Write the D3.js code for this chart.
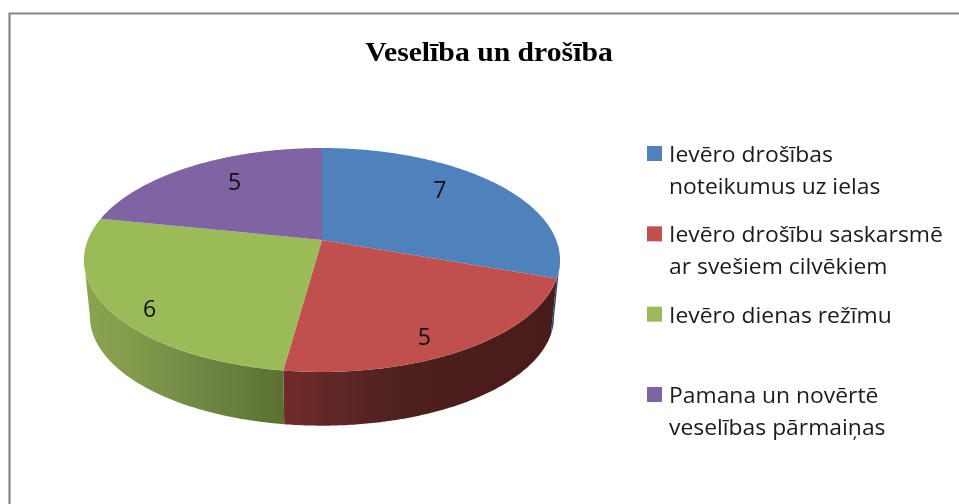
<!DOCTYPE html>
<html>
<head>
<meta charset="utf-8">
<script src="https://cdn.jsdelivr.net/npm/d3@7"></script>
<style>
  html, body { margin: 0; padding: 0; background: #fff; }
  svg { display: block; }
  .legend text { font-family: "Open Sans", sans-serif; font-size: 21px; fill: #1a1a1a; }
  .lbl { font-family: "Open Sans", sans-serif; font-size: 23px; fill: #111; }
</style>
</head>
<body>
<svg id="chart" width="959" height="504"></svg>
<script>
const title = "Veselība un drošība";
const categories = [
  ["Ievēro drošības", "noteikumus uz ielas"],
  ["Ievēro drošību saskarsmē", "ar svešiem cilvēkiem"],
  ["Ievēro dienas režīmu"],
  ["Pamana un novērtē", "veselības pārmaiņas"]
];
const values = [7, 5, 6, 5];
const colors = ["#4f81bd", "#c0504d", "#9bbb59", "#8064a2"];

// wall shading, left to right
const wallStops = [
  [[0, "#2b4a72"], [1, "#2b4a72"]],
  [[0, "#702c2c"], [0.45, "#4d201f"], [1, "#4a1e1d"]],
  [[0, "#8aa452"], [0.2, "#849d4e"], [0.55, "#728944"], [1, "#5c7031"]],
  [[0, "#4f3f66"], [1, "#4f3f66"]]
];

const svg = d3.select("#chart");
const width = 959, height = 504;

const defs = svg.append("defs");
// the source is a slightly soft screenshot
defs.append("filter").attr("id", "soft")
  .attr("x", 0).attr("y", 0).attr("width", 1).attr("height", 1)
  .attr("filterUnits", "objectBoundingBox")
  .append("feGaussianBlur").attr("stdDeviation", 0.4);

const root = svg.append("g").attr("filter", "url(#soft)");
root.append("rect").attr("width", width).attr("height", height).attr("fill", "#fff");

// frame, runs off the right and bottom of the picture
root.append("path")
  .attr("d", d3.line()([[9.5, height], [9.5, 13.5], [width, 13.5]]))
  .attr("fill", "none")
  .attr("stroke", "#868686")
  .attr("stroke-width", 2.2);

root.append("text")
  .attr("transform", "translate(489,61) scale(1.1,1)")
  .attr("text-anchor", "middle")
  .style("font-family", '"Liberation Serif", serif')
  .style("font-weight", "bold")
  .style("font-size", "27px")
  .attr("fill", "#000")
  .text(title);

// perspective of the disc: unit circle -> screen
const persp = {cx: 322, cy: 240, a: 234.2, b: 108.4, k: 0.1786};
const floor = {cy: 297, scale: 0.975};

function project(t, r, scale, cy) {
  const u = Math.sin(t) * r, v = -Math.cos(t) * r;
  const w = 1 - persp.k * v;
  return [persp.cx + scale * persp.a * u / w, cy + scale * persp.b * v / w];
}

function arcPoints(t0, t1, scale, cy) {
  const n = Math.max(2, Math.ceil((t1 - t0) / 0.01));
  return d3.range(n + 1).map(i => project(t0 + (t1 - t0) * i / n, 1, scale, cy));
}

const pie = d3.pie().sort(null).value(d => d);
const slices = pie(values);
const line = d3.line();

// the wall only shows between the two widest points of the disc
const tRight = Math.acos(-persp.k);
const tLeft = 2 * Math.PI - tRight;

const walls = slices.map((s, i) => {
  const t0 = Math.max(s.startAngle, tRight);
  const t1 = Math.min(s.endAngle, tLeft);
  if (t1 <= t0) return null;
  const top = arcPoints(t0, t1, 1, persp.cy);
  const bottom = arcPoints(t0, t1, floor.scale, floor.cy).reverse();
  return {i, pts: top.concat(bottom)};
}).filter(d => d);

walls.forEach(w => {
  const xs = d3.extent(w.pts, p => p[0]);
  const g = defs.append("linearGradient")
    .attr("id", "wall" + w.i)
    .attr("gradientUnits", "userSpaceOnUse")
    .attr("x1", xs[0]).attr("x2", xs[1])
    .attr("y1", 0).attr("y2", 0);
  wallStops[w.i].forEach(st => g.append("stop").attr("offset", st[0]).attr("stop-color", st[1]));
});

root.append("g").selectAll("path")
  .data(walls)
  .join("path")
  .attr("d", d => line(d.pts) + "Z")
  .attr("fill", d => `url(#wall${d.i})`);

root.append("g").selectAll("path")
  .data(slices)
  .join("path")
  .attr("d", s => line([[persp.cx, persp.cy]].concat(arcPoints(s.startAngle, s.endAngle, 1, persp.cy))) + "Z")
  .attr("fill", (s, i) => colors[i]);

// data labels sit at 0.7 of the radius, then nudged the way the source placed them
const labelNudge = [[-7, -10], [7, 23], [-28, 21], [7, -5]];
root.append("g").selectAll("text")
  .data(slices)
  .join("text")
  .attr("class", "lbl")
  .attr("text-anchor", "middle")
  .attr("dominant-baseline", "central")
  .attr("x", (s, i) => project((s.startAngle + s.endAngle) / 2, 0.7, 1, persp.cy)[0] + labelNudge[i][0])
  .attr("y", (s, i) => project((s.startAngle + s.endAngle) / 2, 0.7, 1, persp.cy)[1] + labelNudge[i][1])
  .text(s => s.data);

// legend
const legendY = d3.scalePoint().domain(d3.range(categories.length)).range([146, 387]);
const legend = root.append("g").attr("class", "legend");
const item = legend.selectAll("g")
  .data(categories)
  .join("g")
  .attr("transform", (d, i) => `translate(647,${legendY(i)})`);

item.append("rect")
  .attr("width", 15)
  .attr("height", 15)
  .attr("fill", (d, i) => colors[i]);

item.each(function(d) {
  d3.select(this).selectAll("text")
    .data(d)
    .join("text")
    .attr("transform", (l, j) => `translate(22,${16 + j * 32}) scale(1.09,1)`)
    .text(l => l);
});
</script>
</body>
</html>
